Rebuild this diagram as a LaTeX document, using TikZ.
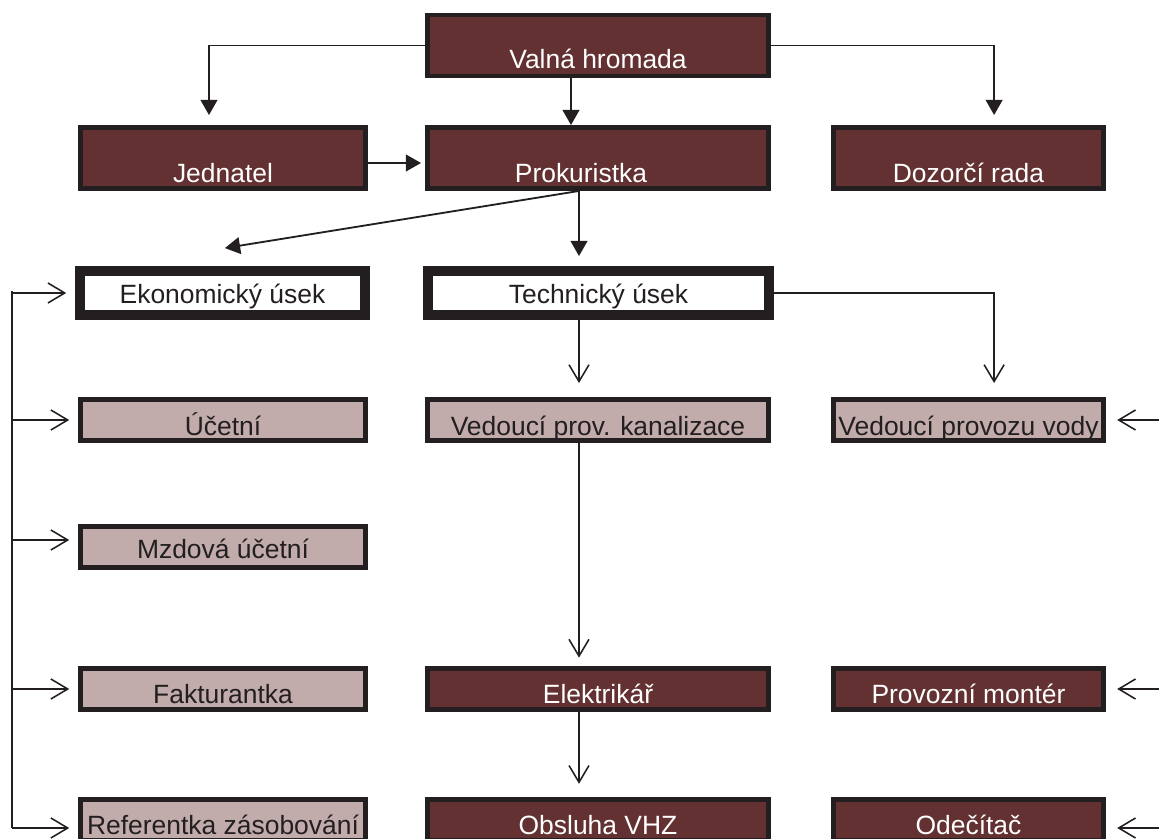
\documentclass[tikz,border=0pt]{standalone}
\usepackage{fontspec}
\setmainfont{Liberation Sans}
\usetikzlibrary{arrows.meta}

\definecolor{edgecol}{HTML}{231F20}
\definecolor{darkfill}{HTML}{633131}
\definecolor{lightfill}{HTML}{C1ABAB}

\tikzset{
  box/.style={rectangle, draw=edgecol, line width=3.5pt, inner sep=0pt, text depth=0pt,
    font=\fontsize{18.8}{22}\selectfont},
  darkbox/.style={box, fill=darkfill, text=white},
  lightbox/.style={box, fill=lightfill, text=edgecol},
  unitbox/.style={box, fill=white, text=edgecol, line width=7pt},
  leftcol/.style={minimum width=7.125cm},
  midcol/.style={minimum width=8.525cm},
  rightcol/.style={minimum width=6.75cm},
  tall/.style={minimum height=1.525cm, text height=#1},
  low/.style={minimum height=1.025cm, text height=#1},
  fill arrow/.style={draw=edgecol, line width=1.3pt, -{Triangle[length=0.38cm,width=0.42cm]}},
  open arrow/.style={draw=edgecol, line width=1.1pt, -{Straight Barb[length=0.42cm,width=0.5cm]}},
  bus/.style={draw=edgecol, line width=1.1pt}
}

\begin{document}
\begin{tikzpicture}[x=0.025cm, y=-0.025cm]
        \path[use as bounding box, clip] (0,0) rectangle (1159,839);

        % Management
        \node[darkbox, midcol, tall=1.125cm] (valna) at (598,45.5) {Valná hromada};
        \node[darkbox, leftcol, tall=1.2cm] (jednatel) at (223,158) {Jednatel};
        \node[darkbox, midcol, tall=1.2cm] (prokur) at (598,158) {Prokuristka\hspace*{0.85cm}};
        \node[darkbox, rightcol, tall=1.2cm] (dozor) at (968.5,158) {Dozorčí rada};

        % Departments
        \node[unitbox, leftcol, minimum height=1.1cm, text height=0.5cm] (ekon) at (222.5,293) {Ekonomický úsek};
        \node[unitbox, midcol, minimum height=1.1cm, text height=0.5cm] (tech) at (598.5,293) {Technický úsek};

        % Staff
        \node[lightbox, leftcol, low=0.75cm] (ucetni) at (223,420) {Účetní};
        \node[lightbox, midcol, low=0.75cm] (vedkan) at (598,420) {Vedoucí prov. kanalizace};
        \node[lightbox, rightcol, low=0.75cm] (vedvody) at (968.5,420) {Vedoucí provozu vody};
        \node[lightbox, leftcol, low=0.55cm] (mzdova) at (223,547) {Mzdová účetní};
        \node[lightbox, leftcol, low=0.7cm] (faktur) at (223,689) {Fakturantka};
        \node[darkbox, midcol, low=0.7cm] (elektr) at (598,689) {Elektrikář};
        \node[darkbox, rightcol, low=0.7cm] (monter) at (968.5,689) {Provozní montér};
        \node[lightbox, leftcol, low=0.7cm] (refer) at (223,820) {Referentka zásobování};
        \node[darkbox, midcol, low=0.7cm] (obsluha) at (598,820) {Obsluha VHZ};
        \node[darkbox, rightcol, low=0.7cm] (odecitac) at (968.5,820) {Odečítač};

        % Top level arrows
        \draw[fill arrow, shorten >=0.25cm] (valna.west) -| ([xshift=-0.35cm]jednatel.north);
        \draw[fill arrow] ([xshift=-0.675cm]valna.south) -- ([xshift=-0.675cm]prokur.north);
        \draw[fill arrow, shorten >=0.25cm] (valna.east) -| ([xshift=0.64cm]dozor.north);
        \draw[fill arrow, shorten >=0.1cm] ([yshift=-0.125cm]jednatel.east) -- ([yshift=-0.125cm]prokur.west);
        \coordinate (pk) at ([xshift=-0.475cm]prokur.south);
        \draw[fill arrow] (pk) -- ([xshift=0.06cm,yshift=0.45cm]ekon.north);
        \draw[fill arrow, shorten >=0.25cm] (pk) -- (pk |- tech.north);

        % Technical section
        \draw[open arrow, shorten >=0.35cm] (tech.east) -| ([xshift=0.64cm]vedvody.north);
        \draw[open arrow, shorten >=0.35cm] (tech.south -| pk) -- (vedkan.north -| pk);
        \draw[open arrow, shorten >=0.21cm] (vedkan.south -| pk) -- (elektr.north -| pk);
        \draw[open arrow, shorten >=0.33cm] (elektr.south -| pk) -- (obsluha.north -| pk);

        % Left bus
        \coordinate (bustop) at (12,291);
        \coordinate (busbot) at (12,828);
        \draw[bus] (bustop) -- (busbot);
        \foreach \n in {ekon,ucetni,faktur}
          \draw[open arrow, shorten >=0.22cm] (bustop |- \n.west) -- (\n.west);
        \draw[open arrow, shorten >=0.22cm] (bustop |- 0,540) -- (mzdova.west |- 0,540);
        \draw[open arrow, shorten >=0.22cm] (busbot) -- (busbot -| refer.west);

        % Right edge
        \coordinate (redge) at (1159,420);
        \coordinate (rbot) at (1159,828);
        \foreach \n in {vedvody,monter}
          \draw[open arrow, shorten >=0.28cm] (redge |- \n.east) -- (\n.east);
        \draw[open arrow, shorten >=0.28cm] (rbot) -- (rbot -| odecitac.east);
    \end{tikzpicture}
\end{document}
